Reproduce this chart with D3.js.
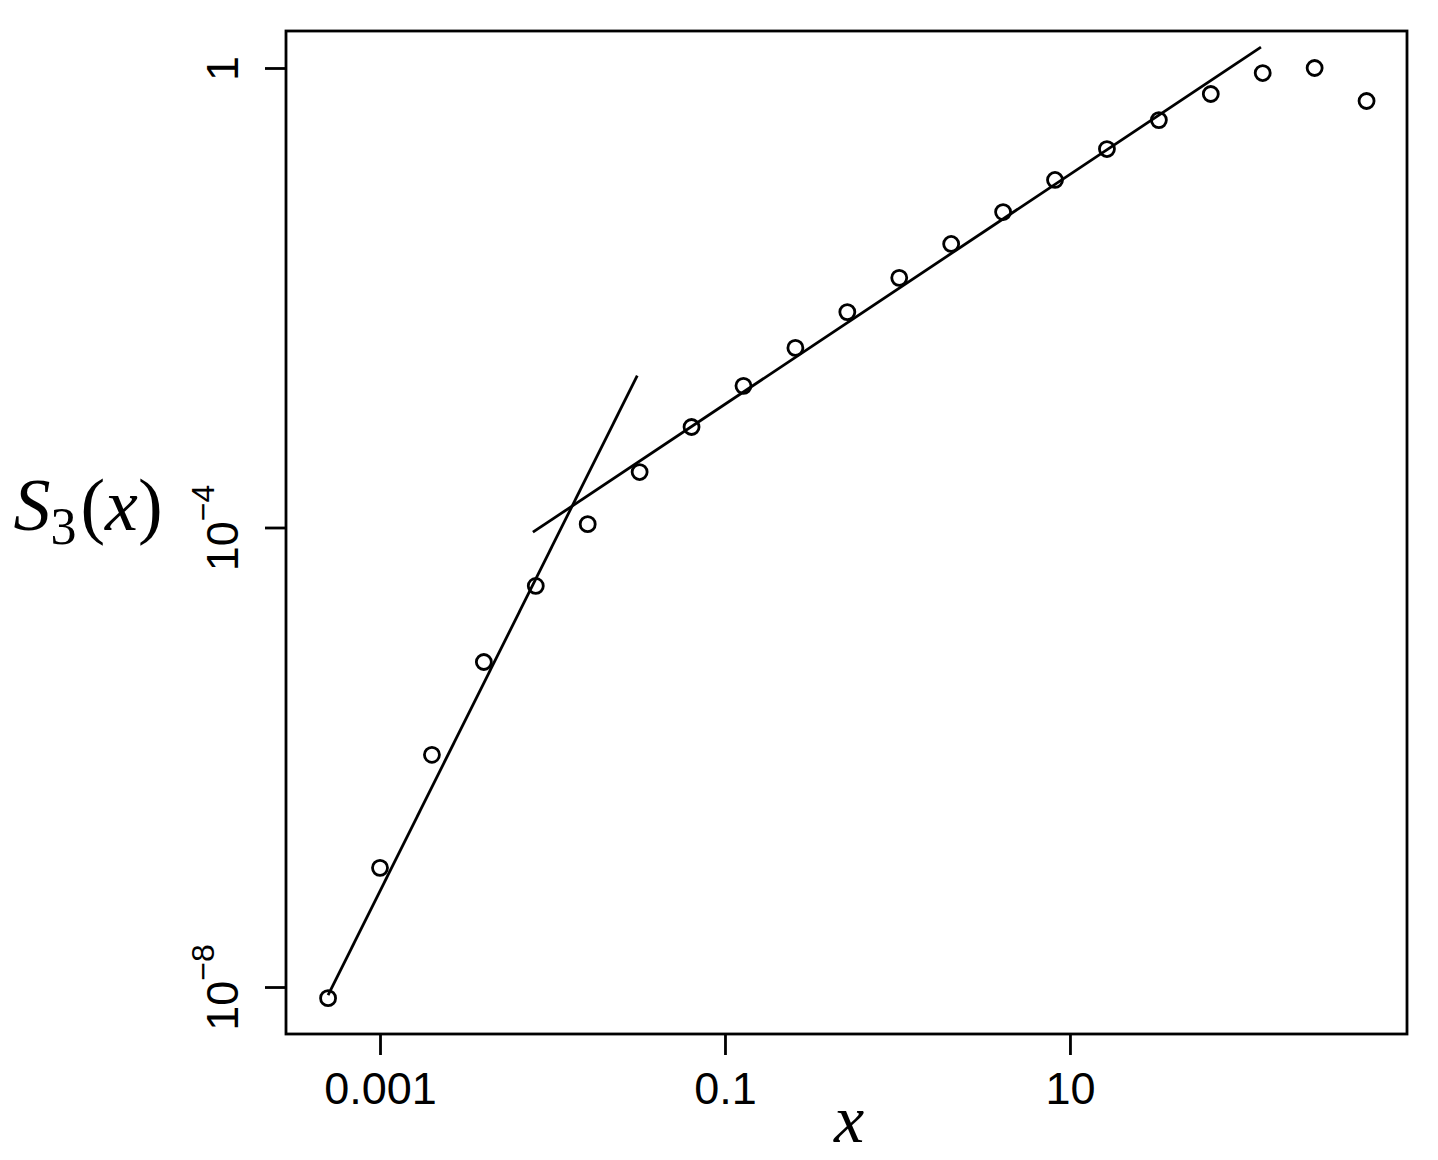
<!DOCTYPE html>
<html>
<head>
<meta charset="utf-8">
<script src="https://cdn.jsdelivr.net/npm/d3@7"></script>
<style>
  body { margin: 0; background: #fff; }
  svg { display: block; }
</style>
</head>
<body>
<div id="chart"></div>
<script>
// chart data
const xValues = [0.0005, 0.001, 0.002, 0.004, 0.008, 0.016, 0.032, 0.064, 0.128, 0.256,
                 0.512, 1.024, 2.048, 4.096, 8.192, 16.384, 32.768, 65.536, 131.072, 262.144, 524.288];
const s3Values = [8.0e-9, 1.09e-7, 1.05e-6, 6.75e-6, 3.1e-5, 1.07e-4, 3.04e-4, 7.5e-4, 1.71e-3, 3.66e-3,
                  7.5e-3, 0.0149, 0.0294, 0.0557, 0.106, 0.197, 0.352, 0.594, 0.904, 1.0, 0.516];

// the two fitted power laws (slope 3 and slope 1)
const fitSteepX = [0.0005, 0.031];
const fitSteepY = [8.5e-9, 2.1e-3];
const fitFlatX = [0.0077, 128];
const fitFlatY = [9.1e-5, 1.52];

const xTicks = [0.001, 0.1, 10];
const xTickLabels = ["0.001", "0.1", "10"];
const yTicks = [1, 1e-4, 1e-8];
const yTickLabels = [["1", ""], ["10", "\u22124"], ["10", "\u22128"]];

const width = 1438;
const height = 1160;
const box = { left: 286, right: 1407, top: 31, bottom: 1034 };
const lw = 2.8;

const svg = d3.select("#chart")
  .append("svg")
  .attr("width", width)
  .attr("height", height);

// log scales, anchored so 0.001 -> 380, 10 -> 1070 and 1 -> 68, 1e-8 -> 987
const x = d3.scaleLog()
  .domain([Math.pow(10, -3.545), Math.pow(10, 2.954)])
  .range([box.left, box.right]);

const y = d3.scaleLog()
  .domain([Math.pow(10, -8.409), Math.pow(10, 0.322)])
  .range([box.bottom, box.top]);

// x axis
const xAxis = svg.append("g")
  .attr("transform", `translate(0,${box.bottom})`)
  .call(d3.axisBottom(x)
    .tickValues(xTicks)
    .tickFormat((d, i) => xTickLabels[i])
    .tickSize(21)
    .tickPadding(17));
xAxis.select(".domain").remove();
xAxis.selectAll(".tick line").attr("stroke", "#000").attr("stroke-width", lw);
xAxis.selectAll(".tick text")
  .attr("fill", "#000")
  .style("font-family", "'Liberation Sans', Arial, sans-serif")
  .style("font-size", "45px");

// y axis, rotated labels with superscript exponents
const yAxis = svg.append("g")
  .attr("transform", `translate(${box.left},0)`)
  .call(d3.axisLeft(y)
    .tickValues(yTicks)
    .tickFormat("")
    .tickSize(21));
yAxis.select(".domain").remove();
yAxis.selectAll(".tick line").attr("stroke", "#000").attr("stroke-width", lw);
yAxis.selectAll(".tick").each(function(d, i) {
  const t = d3.select(this).append("text")
    .attr("transform", "translate(-48,0) rotate(-90)")
    .attr("text-anchor", "middle")
    .attr("fill", "#000")
    .style("font-family", "'Liberation Sans', Arial, sans-serif")
    .style("font-size", "45px");
  t.append("tspan").text(yTickLabels[i][0]);
  if (yTickLabels[i][1]) {
    t.append("tspan")
      .attr("dy", -24)
      .style("font-size", "32px")
      .text(yTickLabels[i][1]);
  }
});

// plot box
svg.append("rect")
  .attr("x", box.left)
  .attr("y", box.top)
  .attr("width", box.right - box.left)
  .attr("height", box.bottom - box.top)
  .attr("fill", "none")
  .attr("stroke", "#000")
  .attr("stroke-width", lw);

// fitted lines
const line = d3.line()
  .x(d => x(d[0]))
  .y(d => y(d[1]));

svg.append("path")
  .datum(fitSteepX.map((v, i) => [v, fitSteepY[i]]))
  .attr("d", line)
  .attr("fill", "none")
  .attr("stroke", "#000")
  .attr("stroke-width", lw);

svg.append("path")
  .datum(fitFlatX.map((v, i) => [v, fitFlatY[i]]))
  .attr("d", line)
  .attr("fill", "none")
  .attr("stroke", "#000")
  .attr("stroke-width", lw);

// points
svg.selectAll(".pt")
  .data(xValues.map((v, i) => [v, s3Values[i]]))
  .enter()
  .append("circle")
  .attr("class", "pt")
  .attr("cx", d => x(d[0]))
  .attr("cy", d => y(d[1]))
  .attr("r", 7.5)
  .attr("fill", "none")
  .attr("stroke", "#000")
  .attr("stroke-width", lw);

// axis titles
svg.append("text")
  .attr("x", 849)
  .attr("y", 1142)
  .attr("text-anchor", "middle")
  .style("font-family", "'Liberation Serif', 'Times New Roman', serif")
  .style("font-style", "italic")
  .style("font-size", "68px")
  .text("x");

const ylab = svg.append("text")
  .attr("x", 88)
  .attr("y", 530)
  .attr("text-anchor", "middle")
  .style("font-family", "'Liberation Serif', 'Times New Roman', serif")
  .style("font-size", "74px");
ylab.append("tspan").style("font-style", "italic").text("S");
ylab.append("tspan").attr("dy", 14).style("font-size", "52px").text("3");
ylab.append("tspan").attr("dy", -14).attr("dx", 4).text("(");
ylab.append("tspan").style("font-style", "italic").text("x");
ylab.append("tspan").text(")");
</script>
</body>
</html>
